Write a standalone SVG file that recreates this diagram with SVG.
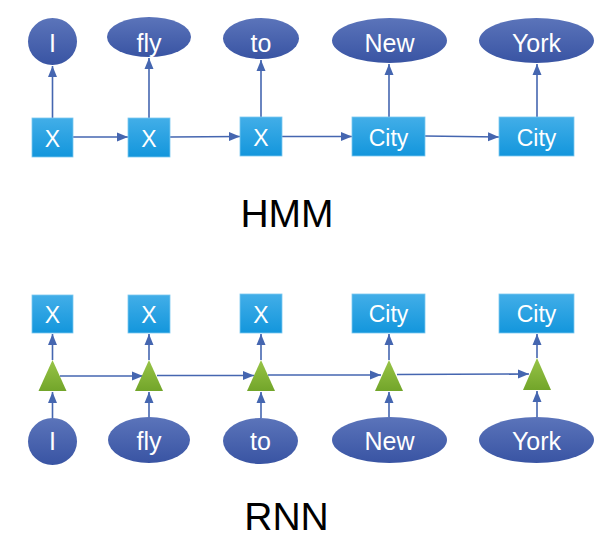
<svg xmlns="http://www.w3.org/2000/svg" width="605" height="540" viewBox="0 0 605 540">
<style>
.box{fill:url(#gBox);stroke:#7cc8f0;stroke-width:0.8}
.ell{fill:url(#gEll)}
.tri{fill:url(#gTri)}
.bt{font-family:"Liberation Sans",Arial,sans-serif;font-size:23px;fill:#ffffff;text-anchor:middle}
.et{font-family:"Liberation Sans",Arial,sans-serif;font-size:25px;fill:#ffffff;text-anchor:middle}
.title{font-family:"Liberation Sans",Arial,sans-serif;font-size:39px;fill:#000000;text-anchor:middle}
.c{stroke:#4566b0;stroke-width:1.6;fill:none;marker-end:url(#ah)}
</style>
<defs>
<linearGradient id="gBox" x1="0" y1="0" x2="0" y2="1"><stop offset="0" stop-color="#42aee8"/><stop offset="1" stop-color="#1396dc"/></linearGradient>
<linearGradient id="gEll" x1="0" y1="0" x2="0" y2="1"><stop offset="0" stop-color="#5b74ba"/><stop offset="1" stop-color="#3954a3"/></linearGradient>
<linearGradient id="gTri" x1="0" y1="0" x2="0" y2="1"><stop offset="0" stop-color="#98c447"/><stop offset="1" stop-color="#72a52a"/></linearGradient>
<marker id="ah" markerUnits="userSpaceOnUse" markerWidth="12" markerHeight="12" viewBox="0 0 12 12" refX="11" refY="6" orient="auto"><path d="M0,1.5 L11,6 L0,10.5 Z" fill="#4566b0"/></marker>
</defs>

<g id="connectors">
<line class="c" x1="52.5" y1="118" x2="52.5" y2="66"/>
<line class="c" x1="149" y1="118" x2="149" y2="58"/>
<line class="c" x1="261" y1="117" x2="261" y2="60"/>
<line class="c" x1="389" y1="117" x2="389" y2="64"/>
<line class="c" x1="537" y1="117" x2="537" y2="64"/>
<line class="c" x1="73" y1="137" x2="128" y2="137"/>
<line class="c" x1="170" y1="137" x2="240" y2="136.5"/>
<line class="c" x1="282" y1="136.5" x2="352" y2="136.5"/>
<line class="c" x1="425" y1="136" x2="499" y2="137"/>
<line class="c" x1="52.5" y1="360" x2="52.5" y2="334"/>
<line class="c" x1="149" y1="360" x2="149" y2="334"/>
<line class="c" x1="261" y1="360" x2="261" y2="334"/>
<line class="c" x1="389" y1="360" x2="389" y2="334"/>
<line class="c" x1="537" y1="358" x2="537" y2="334"/>
<line class="c" x1="52.5" y1="418" x2="52.5" y2="392"/>
<line class="c" x1="149" y1="417" x2="149" y2="392"/>
<line class="c" x1="261" y1="418" x2="261" y2="392"/>
<line class="c" x1="389" y1="417" x2="389" y2="392"/>
<line class="c" x1="537" y1="417" x2="537" y2="391"/>
<line class="c" x1="60" y1="376" x2="143" y2="376"/>
<line class="c" x1="157" y1="375.5" x2="254" y2="375.5"/>
<line class="c" x1="268" y1="375" x2="381" y2="375"/>
<line class="c" x1="397" y1="374.5" x2="529" y2="374"/>
</g>

<g id="hmm-w1"><ellipse class="ell" cx="52.5" cy="41.5" rx="24.5" ry="23.5"/><text class="et" x="52.5" y="52">I</text></g>
<g id="hmm-w2"><ellipse class="ell" cx="149" cy="37" rx="42" ry="20"/><text class="et" x="149" y="52">fly</text></g>
<g id="hmm-w3"><ellipse class="ell" cx="261" cy="38.5" rx="38" ry="20.5"/><text class="et" x="261" y="52">to</text></g>
<g id="hmm-w4"><ellipse class="ell" cx="389.5" cy="40.5" rx="57.5" ry="22.5"/><text class="et" x="389.5" y="52">New</text></g>
<g id="hmm-w5"><ellipse class="ell" cx="536.5" cy="40.5" rx="57.5" ry="22.5"/><text class="et" x="536.5" y="52">York</text></g>

<g id="hmm-s1"><rect class="box" x="32" y="118" width="41" height="39"/><text class="bt" x="52.5" y="147">X</text></g>
<g id="hmm-s2"><rect class="box" x="128" y="118" width="42" height="39"/><text class="bt" x="149" y="147">X</text></g>
<g id="hmm-s3"><rect class="box" x="240" y="117" width="42" height="39"/><text class="bt" x="261" y="146">X</text></g>
<g id="hmm-s4"><rect class="box" x="352" y="117" width="73" height="39"/><text class="bt" x="388.5" y="146">City</text></g>
<g id="hmm-s5"><rect class="box" x="499" y="117" width="75" height="39"/><text class="bt" x="536.5" y="146">City</text></g>

<g id="hmm-label"><text class="title" x="287" y="227">HMM</text></g>

<g id="rnn-o1"><rect class="box" x="32" y="295" width="41" height="38"/><text class="bt" x="52.5" y="323">X</text></g>
<g id="rnn-o2"><rect class="box" x="128" y="295" width="42" height="38"/><text class="bt" x="149" y="323">X</text></g>
<g id="rnn-o3"><rect class="box" x="240" y="294" width="42" height="39"/><text class="bt" x="261" y="323">X</text></g>
<g id="rnn-o4"><rect class="box" x="352" y="294" width="73" height="39"/><text class="bt" x="388.5" y="322">City</text></g>
<g id="rnn-o5"><rect class="box" x="499" y="294" width="75" height="39"/><text class="bt" x="536.5" y="322">City</text></g>

<g id="rnn-h1"><polygon class="tri" points="52.5,360 66.5,391 38.5,391"/></g>
<g id="rnn-h2"><polygon class="tri" points="149,360 163,391 135,391"/></g>
<g id="rnn-h3"><polygon class="tri" points="261,360 275,391 247,391"/></g>
<g id="rnn-h4"><polygon class="tri" points="389,360 403,391 375,391"/></g>
<g id="rnn-h5"><polygon class="tri" points="537,358 551,390 523,390"/></g>

<g id="rnn-w1"><ellipse class="ell" cx="52.5" cy="441.5" rx="24.5" ry="23.5"/><text class="et" x="52.5" y="450">I</text></g>
<g id="rnn-w2"><ellipse class="ell" cx="149" cy="440" rx="41" ry="23"/><text class="et" x="149" y="450">fly</text></g>
<g id="rnn-w3"><ellipse class="ell" cx="260.5" cy="441" rx="37.5" ry="23"/><text class="et" x="260.5" y="450">to</text></g>
<g id="rnn-w4"><ellipse class="ell" cx="389.5" cy="440" rx="57.5" ry="23"/><text class="et" x="389.5" y="450">New</text></g>
<g id="rnn-w5"><ellipse class="ell" cx="536.5" cy="440" rx="57.5" ry="23"/><text class="et" x="536.5" y="450">York</text></g>

<g id="rnn-label"><text class="title" x="286.5" y="530">RNN</text></g>
</svg>
